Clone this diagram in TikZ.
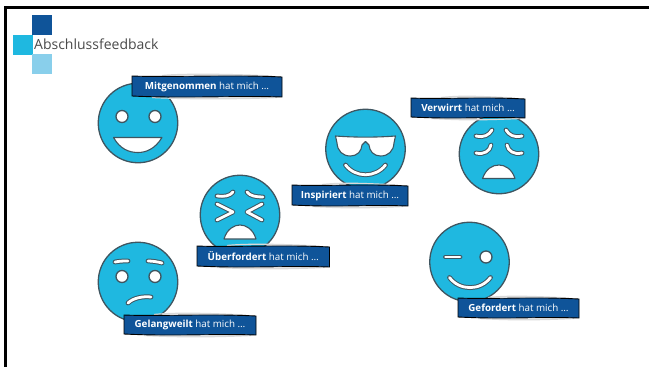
\documentclass[tikz,border=0pt]{standalone}
\usepackage{fontspec}
\setmainfont{Open Sans}
\definecolor{navy}{HTML}{0F5499}
\definecolor{sky}{HTML}{1FB8E0}
\definecolor{pale}{HTML}{89CFEB}
\definecolor{edge}{HTML}{3F5560}
\definecolor{title}{HTML}{4A4A4A}
\tikzset{
  face/.style={circle,draw=edge,fill=sky,line width=1.3pt,minimum size=79.5pt,inner sep=0pt,outer sep=0pt},
  halo/.style={draw=gray!30,line width=1.2pt},
  tag/.style={fill=navy,draw=black,line width=.9pt},
  tagtext/.style={text=white,font=\fontsize{9.8}{11}\selectfont,inner sep=0pt,anchor=center},
  feat/.style={draw=edge,double=white,double distance=2.8pt,line width=1pt,line cap=round,line join=round},
  whitepart/.style={draw=edge,fill=white,line width=1.1pt,line join=round},
  eyeball/.style={draw=edge,fill=white,line width=1.3pt},
  logo/.style={inner sep=0pt,outer sep=0pt,minimum size=20pt},
}
\newcommand{\tagbox}[6]{%
  % name, x1, y1, x2, y2, text
  \path[halo] (#2+30,#3-.5) .. controls (#2+50,#3-2.5) and (#4-50,#3-2) .. (#4-10,#3)
     (#2+20,#5+.5) .. controls (#2+50,#5+2) and (#4-50,#5+2.5) .. (#4-5,#5+.5);
  \path[tag] (#2,#3) .. controls (#2+35,#3+1.5) and (#4-50,#3-1.5) .. (#4,#3+1)
     -- (#4,#5) .. controls (#4-40,#5-1.5) and (#2+50,#5+1.5) .. (#2,#5-1) -- cycle;
  \node[tagtext] (#1) at ({(#2+#4)/2},{(#3+#5)/2}) {#6};
}
\begin{document}
\begin{tikzpicture}[x=1pt,y=-1pt]
\useasboundingbox (0,0) rectangle (649,367);
\draw[black,line width=2.6pt] (5.5,367) -- (5.5,7.5) -- (649,7.5);
% logo
\node[logo,fill=navy,anchor=north west] (logoa) at (32,15) {};
\node[logo,fill=sky,anchor=north west] (logob) at (13,35) {};
\node[logo,fill=pale,anchor=north west] (logoc) at (32,54) {};
\node[anchor=west,inner sep=0pt,text=title,font=\fontsize{14}{17}\selectfont] (title) at (34,44.5) {Abschlussfeedback};
% Mitgenommen
\node[face] (f1) at (138,123) {};
\begin{scope}[shift={(138,123)}]
  \draw[eyeball] (-16,-6.5) circle (6);
  \draw[eyeball] (17,-6.5) circle (6);
  \draw[whitepart] (-24.5,14.5) -- (24,14.5) .. controls (17,26) and (8,29.5) .. (0,29.5) .. controls (-9,29.5) and (-18,26) .. cycle;
\end{scope}
% Inspiriert
\node[face] (f2) at (365.5,149) {};
\begin{scope}[shift={(365.5,149)}]
  \draw[whitepart] (-30,-13) .. controls (-10,-11.5) and (10,-11.5) .. (30,-13) -- (28.5,-6) .. controls (28,2) and (23,7) .. (15,7) .. controls (8,7) and (4,2) .. (3.5,-4) -- (0,-7.5) -- (-3.5,-4) .. controls (-4,2) and (-8,7) .. (-15,7) .. controls (-23,7) and (-28,2) .. (-28.5,-6) -- cycle;
  \draw[feat] (-20,16) .. controls (-10,29) and (10,29) .. (20,16);
\end{scope}
% Verwirrt
\node[face] (f3) at (499,154) {};
\begin{scope}[shift={(499,154)}]
  \draw[feat] (-23,-18) .. controls (-15,-16) and (-10,-19) .. (-7,-24);
  \draw[feat] (7,-24) .. controls (10,-19) and (15,-16) .. (23,-18);
  \draw[feat] (-23,-1) .. controls (-15,1) and (-9,-3) .. (-8,-9);
  \draw[feat] (8,-9) .. controls (9,-3) and (15,1) .. (23,-1);
  \draw[whitepart] (-16.5,24.5) -- (16,24.5) .. controls (13,15) and (6,11) .. (0,11) .. controls (-7,11) and (-13,15) .. cycle;
\end{scope}
% Ueberfordert
\node[face] (f4) at (240,215) {};
\begin{scope}[shift={(240,215)}]
  \draw[feat] (-23,-19) .. controls (-16,-18) and (-10,-19) .. (-7,-23);
  \draw[feat] (7,-23) .. controls (10,-19) and (16,-18) .. (23,-18);
  \draw[feat] (-23,-11) -- (-7,-3) -- (-23,5);
  \draw[feat] (22,-11) -- (7,-3) -- (22,5);
  \draw[whitepart] (-16,24) -- (16,24) .. controls (13,14) and (6,10) .. (0,10) .. controls (-6,10) and (-13,14) .. cycle;
\end{scope}
% Gelangweilt
\node[face] (f5) at (138,282) {};
\begin{scope}[shift={(138,282)}]
  \draw[feat] (-23,-20) .. controls (-18,-21) and (-14,-21) .. (-10,-21);
  \draw[feat] (10,-21) .. controls (15,-21) and (20,-20) .. (24,-19);
  \draw[eyeball] (-16,-5.5) circle (6);
  \draw[eyeball] (17,-5.5) circle (6);
  \draw[feat] (-10,21) .. controls (-5,16) and (5,14) .. (13,15);
\end{scope}
% Gefordert
\node[face] (f6) at (469.5,262) {};
\begin{scope}[shift={(469.5,262)}]
  \draw[feat] (-24,-5) -- (-9.5,-5);
  \draw[eyeball] (16.5,-5) circle (6);
  \draw[feat] (-20,15.5) .. controls (-10,29) and (11,29) .. (21,15.5);
\end{scope}
% labels
\tagbox{l1}{132}{76}{282}{97}{\textbf{Mitgenommen} hat mich …}
\tagbox{l2}{292}{185}{408}{206}{\textbf{Inspiriert} hat mich …}
\tagbox{l3}{411}{98}{525}{118}{\textbf{Verwirrt} hat mich …}
\tagbox{l4}{197}{246}{329.5}{267}{\textbf{Überfordert} hat mich …}
\tagbox{l5}{124}{315}{256}{335}{\textbf{Gelangweilt} hat mich …}
\tagbox{l6}{458}{298}{579}{318}{\textbf{Gefordert} hat mich …}
\end{tikzpicture}
\end{document}
